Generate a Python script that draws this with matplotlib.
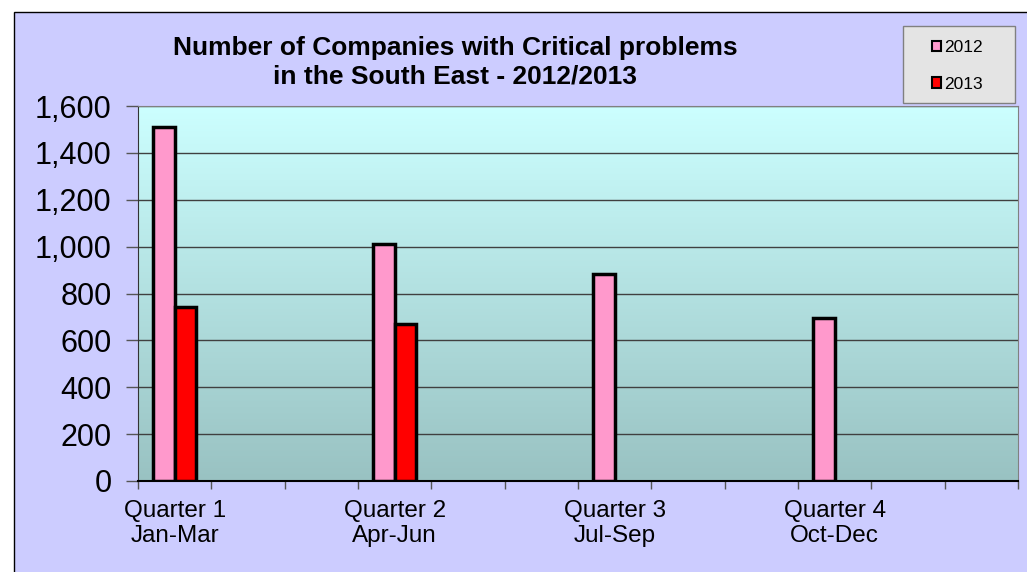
import numpy as np
import matplotlib.pyplot as plt
from matplotlib.patches import Rectangle, Patch
from matplotlib.ticker import FuncFormatter

plt.rcParams['font.family'] = ['Liberation Sans', 'DejaVu Sans']

# data
quarters = ['Quarter 1\nJan-Mar', 'Quarter 2\nApr-Jun', 'Quarter 3\nJul-Sep', 'Quarter 4\nOct-Dec']
values_2012 = [1510, 1010, 885, 695]
values_2013 = [741, 672]
series_names = ['2012', '2013']

# chart has 12 slots (months), one bar group per quarter at the first slot
n_slots = 12
quarter_slot = np.arange(len(quarters)) * 3

W, H = 1027, 572
fig = plt.figure(figsize=(W / 100, H / 100), dpi=100)
fig.patch.set_facecolor('white')

# chart area background
fig.patches.append(Rectangle((14 / W, -0.1), 1.1, 1 - 12 / H + 0.1,
                             transform=fig.transFigure, facecolor='#CCCCFF',
                             edgecolor='black', linewidth=1, zorder=-5))

ax = fig.add_axes([138 / W, 1 - 481 / H, (1018 - 138) / W, (481 - 106) / H])
ax.set_facecolor('none')

# gradient plot area
grad = np.linspace(0, 1, 256).reshape(-1, 1)
top = np.array([204, 255, 255]) / 255
bot = np.array([153, 194, 194]) / 255
img = top + (bot - top) * grad[:, :, None]
ax.imshow(img, extent=[0, 1, 0, 1], transform=ax.transAxes, aspect='auto', zorder=0)

w = 0.295
ax.bar(quarter_slot[:len(values_2012)] - w / 2, values_2012, width=w,
       color='#FF99CC', edgecolor='black', linewidth=2.5, zorder=3)
ax.bar(quarter_slot[:len(values_2013)] + w / 2, values_2013, width=w,
       color='#FF0000', edgecolor='black', linewidth=2.5, zorder=3)

ax.set_xlim(-0.5, n_slots - 0.5)
ax.set_ylim(0, 1600)
ax.set_yticks(np.arange(0, 1601, 200))
ax.yaxis.set_major_formatter(FuncFormatter(lambda v, p: f'{int(v):,}'))
ax.yaxis.grid(True, color='#404040', linewidth=1, zorder=1)
ax.set_axisbelow(True)
ax.tick_params(axis='y', labelsize=22, length=9, width=1, color='#555555', pad=10)

ax.set_xticks(quarter_slot)
ax.set_xticklabels(quarters, fontsize=17.5, linespacing=1.15)
ax.set_xticks(np.arange(-0.5, n_slots, 1), minor=True)
ax.tick_params(axis='x', which='major', length=0, pad=14)
ax.tick_params(axis='x', which='minor', length=6, width=1, color='#555555')

for s in ['top', 'right']:
    ax.spines[s].set_color('#808080')
ax.spines['left'].set_color('#333333')
ax.spines['bottom'].set_color('black')
ax.spines['bottom'].set_linewidth(1.5)

fig.text(455 / W, 1 - 62 / H,
         'Number of Companies with Critical problems\nin the South East - 2012/2013',
         ha='center', va='center', fontsize=19, fontweight='bold', linespacing=1.25)

# legend box
fig.patches.append(Rectangle((903 / W, 1 - 103 / H), 112 / W, 77 / H,
                             transform=fig.transFigure, facecolor='#E4E4E4',
                             edgecolor='#808080', linewidth=1, zorder=4))
handles = [Patch(facecolor='#FF99CC', edgecolor='black', linewidth=1.5),
           Patch(facecolor='#FF0000', edgecolor='black', linewidth=1.5)]
leg = fig.legend(handles, series_names, loc='center',
                 bbox_to_anchor=(957 / W, 1 - 66 / H), fontsize=12.5,
                 handlelength=0.55, handleheight=0.55, handletextpad=0.15,
                 labelspacing=1.25, borderpad=0, borderaxespad=0,
                 frameon=False)
leg.set_zorder(5)

fig.savefig('out.png', dpi=100)
